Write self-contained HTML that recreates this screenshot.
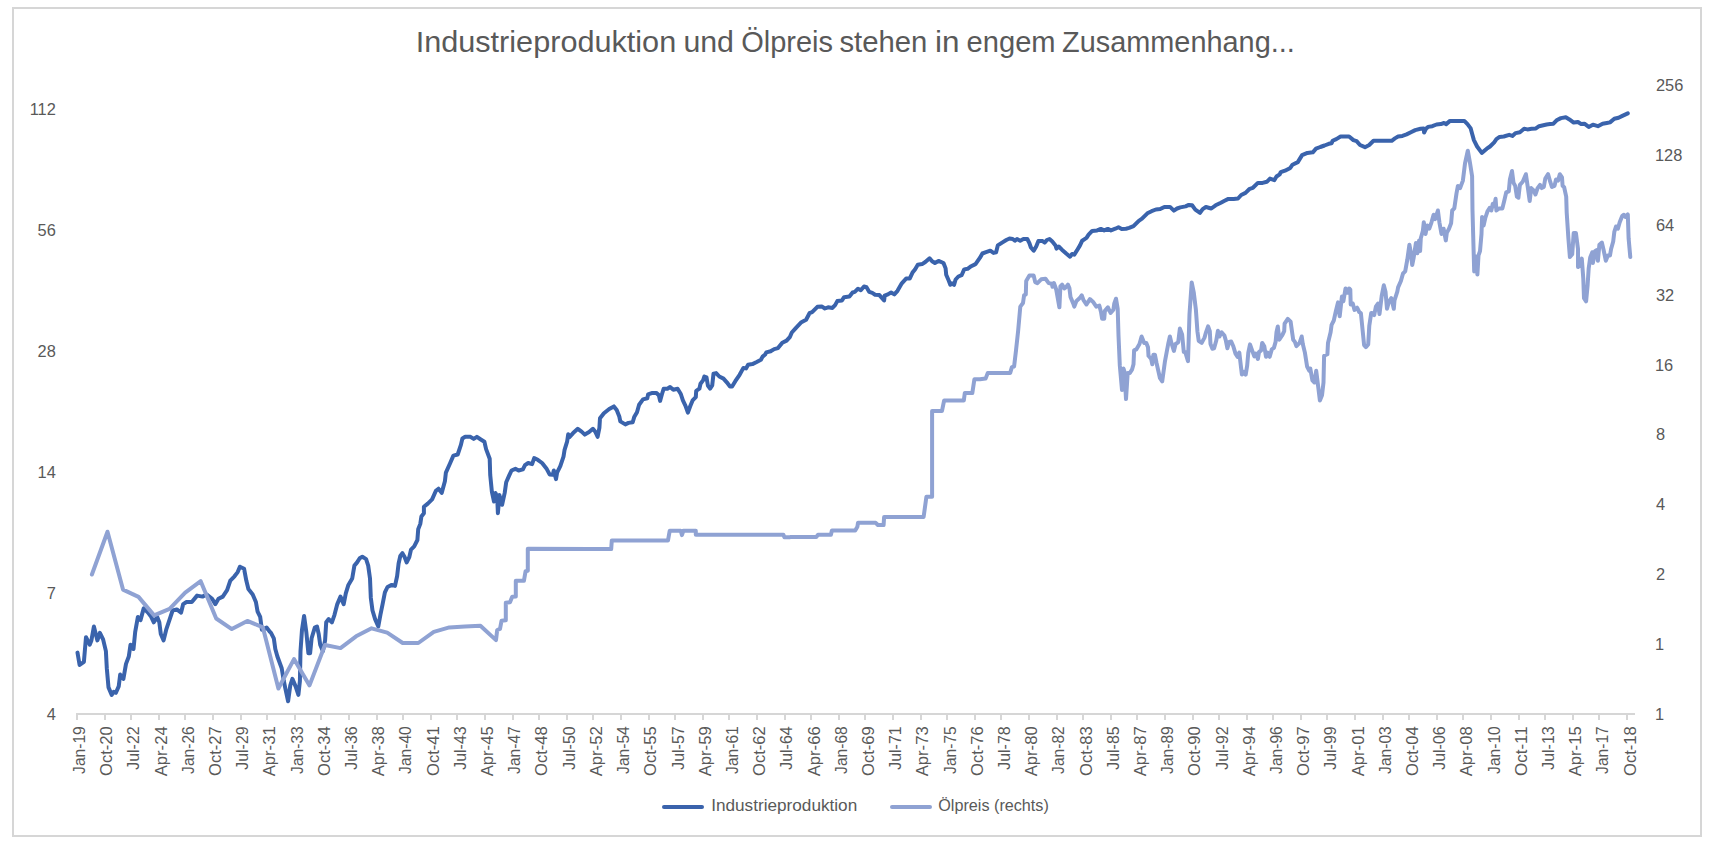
<!DOCTYPE html>
<html lang="de"><head><meta charset="utf-8"><title>Industrieproduktion und Ölpreis</title>
<style>
html,body{margin:0;padding:0;background:#fff;}
body{width:1711px;height:842px;overflow:hidden;font-family:"Liberation Sans",sans-serif;}
svg{display:block;}
text{font-family:"Liberation Sans",sans-serif;fill:#595959;}
.ax{font-size:16.4px;}
.xl{font-size:16.6px;}
.lg{font-size:16.6px;}
.ti{font-size:29.6px;}
</style></head><body>
<svg width="1711" height="842" viewBox="0 0 1711 842">
<rect x="0" y="0" width="1711" height="842" fill="#ffffff"/>
<rect x="13" y="8" width="1688" height="828" fill="#ffffff" stroke="#d6d6d6" stroke-width="2"/>

<text class="ti" x="415.7" y="52.1" textLength="260.5" lengthAdjust="spacingAndGlyphs">Industrieproduktion</text>
<text class="ti" x="683.4" y="52.1" textLength="50.6" lengthAdjust="spacingAndGlyphs">und</text>
<text class="ti" x="741.2" y="52.1" textLength="91.8" lengthAdjust="spacingAndGlyphs">Ölpreis</text>
<text class="ti" x="839.4" y="52.1" textLength="88.0" lengthAdjust="spacingAndGlyphs">stehen</text>
<text class="ti" x="935.1" y="52.1" textLength="24.5" lengthAdjust="spacingAndGlyphs">in</text>
<text class="ti" x="966.6" y="52.1" textLength="89.0" lengthAdjust="spacingAndGlyphs">engem</text>
<text class="ti" x="1062.0" y="52.1" textLength="232.8" lengthAdjust="spacingAndGlyphs">Zusammenhang...</text>
<text class="ax" x="55.8" y="114.9" text-anchor="end">112</text>
<text class="ax" x="55.8" y="235.9" text-anchor="end">56</text>
<text class="ax" x="55.8" y="356.9" text-anchor="end">28</text>
<text class="ax" x="55.8" y="478.0" text-anchor="end">14</text>
<text class="ax" x="55.8" y="599.0" text-anchor="end">7</text>
<text class="ax" x="55.8" y="720.0" text-anchor="end">4</text>
<text class="ax" x="1656.0" y="91.0">256</text>
<text class="ax" x="1655.0" y="160.9">128</text>
<text class="ax" x="1656.0" y="230.7">64</text>
<text class="ax" x="1656.0" y="300.6">32</text>
<text class="ax" x="1655.0" y="370.5">16</text>
<text class="ax" x="1656.0" y="440.4">8</text>
<text class="ax" x="1656.0" y="510.2">4</text>
<text class="ax" x="1656.0" y="580.1">2</text>
<text class="ax" x="1655.0" y="650.0">1</text>
<text class="ax" x="1655.0" y="719.8">1</text>
<g stroke="#d6d6d6" stroke-width="2" fill="none">
<line x1="77" y1="714" x2="1635" y2="714"/>
<line x1="77.0" y1="713" x2="77.0" y2="720"/>
<line x1="105.0" y1="713" x2="105.0" y2="720"/>
<line x1="131.0" y1="713" x2="131.0" y2="720"/>
<line x1="159.0" y1="713" x2="159.0" y2="720"/>
<line x1="185.0" y1="713" x2="185.0" y2="720"/>
<line x1="213.0" y1="713" x2="213.0" y2="720"/>
<line x1="241.0" y1="713" x2="241.0" y2="720"/>
<line x1="267.0" y1="713" x2="267.0" y2="720"/>
<line x1="295.0" y1="713" x2="295.0" y2="720"/>
<line x1="321.0" y1="713" x2="321.0" y2="720"/>
<line x1="349.0" y1="713" x2="349.0" y2="720"/>
<line x1="377.0" y1="713" x2="377.0" y2="720"/>
<line x1="403.0" y1="713" x2="403.0" y2="720"/>
<line x1="431.0" y1="713" x2="431.0" y2="720"/>
<line x1="457.0" y1="713" x2="457.0" y2="720"/>
<line x1="485.0" y1="713" x2="485.0" y2="720"/>
<line x1="513.0" y1="713" x2="513.0" y2="720"/>
<line x1="539.0" y1="713" x2="539.0" y2="720"/>
<line x1="567.0" y1="713" x2="567.0" y2="720"/>
<line x1="593.0" y1="713" x2="593.0" y2="720"/>
<line x1="621.0" y1="713" x2="621.0" y2="720"/>
<line x1="649.0" y1="713" x2="649.0" y2="720"/>
<line x1="675.0" y1="713" x2="675.0" y2="720"/>
<line x1="703.0" y1="713" x2="703.0" y2="720"/>
<line x1="729.0" y1="713" x2="729.0" y2="720"/>
<line x1="757.0" y1="713" x2="757.0" y2="720"/>
<line x1="785.0" y1="713" x2="785.0" y2="720"/>
<line x1="811.0" y1="713" x2="811.0" y2="720"/>
<line x1="839.0" y1="713" x2="839.0" y2="720"/>
<line x1="865.0" y1="713" x2="865.0" y2="720"/>
<line x1="893.0" y1="713" x2="893.0" y2="720"/>
<line x1="921.0" y1="713" x2="921.0" y2="720"/>
<line x1="947.0" y1="713" x2="947.0" y2="720"/>
<line x1="975.0" y1="713" x2="975.0" y2="720"/>
<line x1="1001.0" y1="713" x2="1001.0" y2="720"/>
<line x1="1029.0" y1="713" x2="1029.0" y2="720"/>
<line x1="1057.0" y1="713" x2="1057.0" y2="720"/>
<line x1="1083.0" y1="713" x2="1083.0" y2="720"/>
<line x1="1111.0" y1="713" x2="1111.0" y2="720"/>
<line x1="1137.0" y1="713" x2="1137.0" y2="720"/>
<line x1="1165.0" y1="713" x2="1165.0" y2="720"/>
<line x1="1193.0" y1="713" x2="1193.0" y2="720"/>
<line x1="1219.0" y1="713" x2="1219.0" y2="720"/>
<line x1="1247.0" y1="713" x2="1247.0" y2="720"/>
<line x1="1273.0" y1="713" x2="1273.0" y2="720"/>
<line x1="1301.0" y1="713" x2="1301.0" y2="720"/>
<line x1="1327.0" y1="713" x2="1327.0" y2="720"/>
<line x1="1355.0" y1="713" x2="1355.0" y2="720"/>
<line x1="1383.0" y1="713" x2="1383.0" y2="720"/>
<line x1="1409.0" y1="713" x2="1409.0" y2="720"/>
<line x1="1437.0" y1="713" x2="1437.0" y2="720"/>
<line x1="1463.0" y1="713" x2="1463.0" y2="720"/>
<line x1="1491.0" y1="713" x2="1491.0" y2="720"/>
<line x1="1519.0" y1="713" x2="1519.0" y2="720"/>
<line x1="1545.0" y1="713" x2="1545.0" y2="720"/>
<line x1="1573.0" y1="713" x2="1573.0" y2="720"/>
<line x1="1599.0" y1="713" x2="1599.0" y2="720"/>
<line x1="1627.0" y1="713" x2="1627.0" y2="720"/>
</g>
<text class="xl" transform="translate(85.0,726.3) rotate(-90)" text-anchor="end" textLength="47.6" lengthAdjust="spacingAndGlyphs">Jan-19</text>
<text class="xl" transform="translate(112.2,726.3) rotate(-90)" text-anchor="end" textLength="49.7" lengthAdjust="spacingAndGlyphs">Oct-20</text>
<text class="xl" transform="translate(139.4,726.3) rotate(-90)" text-anchor="end" textLength="43.5" lengthAdjust="spacingAndGlyphs">Jul-22</text>
<text class="xl" transform="translate(166.6,726.3) rotate(-90)" text-anchor="end" textLength="50.0" lengthAdjust="spacingAndGlyphs">Apr-24</text>
<text class="xl" transform="translate(193.8,726.3) rotate(-90)" text-anchor="end" textLength="47.6" lengthAdjust="spacingAndGlyphs">Jan-26</text>
<text class="xl" transform="translate(221.0,726.3) rotate(-90)" text-anchor="end" textLength="49.7" lengthAdjust="spacingAndGlyphs">Oct-27</text>
<text class="xl" transform="translate(248.2,726.3) rotate(-90)" text-anchor="end" textLength="43.5" lengthAdjust="spacingAndGlyphs">Jul-29</text>
<text class="xl" transform="translate(275.4,726.3) rotate(-90)" text-anchor="end" textLength="50.0" lengthAdjust="spacingAndGlyphs">Apr-31</text>
<text class="xl" transform="translate(302.6,726.3) rotate(-90)" text-anchor="end" textLength="47.6" lengthAdjust="spacingAndGlyphs">Jan-33</text>
<text class="xl" transform="translate(329.8,726.3) rotate(-90)" text-anchor="end" textLength="49.7" lengthAdjust="spacingAndGlyphs">Oct-34</text>
<text class="xl" transform="translate(357.0,726.3) rotate(-90)" text-anchor="end" textLength="43.5" lengthAdjust="spacingAndGlyphs">Jul-36</text>
<text class="xl" transform="translate(384.2,726.3) rotate(-90)" text-anchor="end" textLength="50.0" lengthAdjust="spacingAndGlyphs">Apr-38</text>
<text class="xl" transform="translate(411.4,726.3) rotate(-90)" text-anchor="end" textLength="47.6" lengthAdjust="spacingAndGlyphs">Jan-40</text>
<text class="xl" transform="translate(438.6,726.3) rotate(-90)" text-anchor="end" textLength="49.7" lengthAdjust="spacingAndGlyphs">Oct-41</text>
<text class="xl" transform="translate(465.8,726.3) rotate(-90)" text-anchor="end" textLength="43.5" lengthAdjust="spacingAndGlyphs">Jul-43</text>
<text class="xl" transform="translate(493.0,726.3) rotate(-90)" text-anchor="end" textLength="50.0" lengthAdjust="spacingAndGlyphs">Apr-45</text>
<text class="xl" transform="translate(520.2,726.3) rotate(-90)" text-anchor="end" textLength="47.6" lengthAdjust="spacingAndGlyphs">Jan-47</text>
<text class="xl" transform="translate(547.4,726.3) rotate(-90)" text-anchor="end" textLength="49.7" lengthAdjust="spacingAndGlyphs">Oct-48</text>
<text class="xl" transform="translate(574.6,726.3) rotate(-90)" text-anchor="end" textLength="43.5" lengthAdjust="spacingAndGlyphs">Jul-50</text>
<text class="xl" transform="translate(601.8,726.3) rotate(-90)" text-anchor="end" textLength="50.0" lengthAdjust="spacingAndGlyphs">Apr-52</text>
<text class="xl" transform="translate(629.0,726.3) rotate(-90)" text-anchor="end" textLength="47.6" lengthAdjust="spacingAndGlyphs">Jan-54</text>
<text class="xl" transform="translate(656.3,726.3) rotate(-90)" text-anchor="end" textLength="49.7" lengthAdjust="spacingAndGlyphs">Oct-55</text>
<text class="xl" transform="translate(683.5,726.3) rotate(-90)" text-anchor="end" textLength="43.5" lengthAdjust="spacingAndGlyphs">Jul-57</text>
<text class="xl" transform="translate(710.7,726.3) rotate(-90)" text-anchor="end" textLength="50.0" lengthAdjust="spacingAndGlyphs">Apr-59</text>
<text class="xl" transform="translate(737.9,726.3) rotate(-90)" text-anchor="end" textLength="47.6" lengthAdjust="spacingAndGlyphs">Jan-61</text>
<text class="xl" transform="translate(765.1,726.3) rotate(-90)" text-anchor="end" textLength="49.7" lengthAdjust="spacingAndGlyphs">Oct-62</text>
<text class="xl" transform="translate(792.3,726.3) rotate(-90)" text-anchor="end" textLength="43.5" lengthAdjust="spacingAndGlyphs">Jul-64</text>
<text class="xl" transform="translate(819.5,726.3) rotate(-90)" text-anchor="end" textLength="50.0" lengthAdjust="spacingAndGlyphs">Apr-66</text>
<text class="xl" transform="translate(846.7,726.3) rotate(-90)" text-anchor="end" textLength="47.6" lengthAdjust="spacingAndGlyphs">Jan-68</text>
<text class="xl" transform="translate(873.9,726.3) rotate(-90)" text-anchor="end" textLength="49.7" lengthAdjust="spacingAndGlyphs">Oct-69</text>
<text class="xl" transform="translate(901.1,726.3) rotate(-90)" text-anchor="end" textLength="43.5" lengthAdjust="spacingAndGlyphs">Jul-71</text>
<text class="xl" transform="translate(928.3,726.3) rotate(-90)" text-anchor="end" textLength="50.0" lengthAdjust="spacingAndGlyphs">Apr-73</text>
<text class="xl" transform="translate(955.5,726.3) rotate(-90)" text-anchor="end" textLength="47.6" lengthAdjust="spacingAndGlyphs">Jan-75</text>
<text class="xl" transform="translate(982.7,726.3) rotate(-90)" text-anchor="end" textLength="49.7" lengthAdjust="spacingAndGlyphs">Oct-76</text>
<text class="xl" transform="translate(1009.9,726.3) rotate(-90)" text-anchor="end" textLength="43.5" lengthAdjust="spacingAndGlyphs">Jul-78</text>
<text class="xl" transform="translate(1037.1,726.3) rotate(-90)" text-anchor="end" textLength="50.0" lengthAdjust="spacingAndGlyphs">Apr-80</text>
<text class="xl" transform="translate(1064.3,726.3) rotate(-90)" text-anchor="end" textLength="47.6" lengthAdjust="spacingAndGlyphs">Jan-82</text>
<text class="xl" transform="translate(1091.5,726.3) rotate(-90)" text-anchor="end" textLength="49.7" lengthAdjust="spacingAndGlyphs">Oct-83</text>
<text class="xl" transform="translate(1118.7,726.3) rotate(-90)" text-anchor="end" textLength="43.5" lengthAdjust="spacingAndGlyphs">Jul-85</text>
<text class="xl" transform="translate(1145.9,726.3) rotate(-90)" text-anchor="end" textLength="50.0" lengthAdjust="spacingAndGlyphs">Apr-87</text>
<text class="xl" transform="translate(1173.1,726.3) rotate(-90)" text-anchor="end" textLength="47.6" lengthAdjust="spacingAndGlyphs">Jan-89</text>
<text class="xl" transform="translate(1200.4,726.3) rotate(-90)" text-anchor="end" textLength="49.7" lengthAdjust="spacingAndGlyphs">Oct-90</text>
<text class="xl" transform="translate(1227.6,726.3) rotate(-90)" text-anchor="end" textLength="43.5" lengthAdjust="spacingAndGlyphs">Jul-92</text>
<text class="xl" transform="translate(1254.8,726.3) rotate(-90)" text-anchor="end" textLength="50.0" lengthAdjust="spacingAndGlyphs">Apr-94</text>
<text class="xl" transform="translate(1282.0,726.3) rotate(-90)" text-anchor="end" textLength="47.6" lengthAdjust="spacingAndGlyphs">Jan-96</text>
<text class="xl" transform="translate(1309.2,726.3) rotate(-90)" text-anchor="end" textLength="49.7" lengthAdjust="spacingAndGlyphs">Oct-97</text>
<text class="xl" transform="translate(1336.4,726.3) rotate(-90)" text-anchor="end" textLength="43.5" lengthAdjust="spacingAndGlyphs">Jul-99</text>
<text class="xl" transform="translate(1363.6,726.3) rotate(-90)" text-anchor="end" textLength="50.0" lengthAdjust="spacingAndGlyphs">Apr-01</text>
<text class="xl" transform="translate(1390.8,726.3) rotate(-90)" text-anchor="end" textLength="47.6" lengthAdjust="spacingAndGlyphs">Jan-03</text>
<text class="xl" transform="translate(1418.0,726.3) rotate(-90)" text-anchor="end" textLength="49.7" lengthAdjust="spacingAndGlyphs">Oct-04</text>
<text class="xl" transform="translate(1445.2,726.3) rotate(-90)" text-anchor="end" textLength="43.5" lengthAdjust="spacingAndGlyphs">Jul-06</text>
<text class="xl" transform="translate(1472.4,726.3) rotate(-90)" text-anchor="end" textLength="50.0" lengthAdjust="spacingAndGlyphs">Apr-08</text>
<text class="xl" transform="translate(1499.6,726.3) rotate(-90)" text-anchor="end" textLength="47.6" lengthAdjust="spacingAndGlyphs">Jan-10</text>
<text class="xl" transform="translate(1526.8,726.3) rotate(-90)" text-anchor="end" textLength="49.7" lengthAdjust="spacingAndGlyphs">Oct-11</text>
<text class="xl" transform="translate(1554.0,726.3) rotate(-90)" text-anchor="end" textLength="43.5" lengthAdjust="spacingAndGlyphs">Jul-13</text>
<text class="xl" transform="translate(1581.2,726.3) rotate(-90)" text-anchor="end" textLength="50.0" lengthAdjust="spacingAndGlyphs">Apr-15</text>
<text class="xl" transform="translate(1608.4,726.3) rotate(-90)" text-anchor="end" textLength="47.6" lengthAdjust="spacingAndGlyphs">Jan-17</text>
<text class="xl" transform="translate(1635.6,726.3) rotate(-90)" text-anchor="end" textLength="49.7" lengthAdjust="spacingAndGlyphs">Oct-18</text>
<polyline fill="none" stroke="#3a63ac" stroke-width="4" stroke-linejoin="round" stroke-linecap="round" points="77.5,652.6 79.6,665.0 83.9,661.8 86.0,637.2 89.7,644.7 91.4,640.4 93.9,626.5 97.4,640.4 99.9,632.9 103.1,639.4 105.9,651.1 106.8,668.2 108.5,687.4 111.7,694.9 113.8,691.7 115.9,692.8 118.7,686.4 120.2,674.6 123.4,678.9 126.0,663.9 128.8,656.5 130.5,644.7 133.5,649.0 135.2,631.9 137.9,616.9 140.5,620.1 143.7,608.4 148.0,612.6 151.2,616.9 153.8,622.3 157.2,616.9 159.3,622.3 160.8,634.0 163.6,640.4 166.2,629.7 169.4,620.1 172.6,610.5 176.8,609.4 181.1,612.6 183.2,604.1 186.5,602.0 191.8,602.0 197.1,595.6 202.5,596.6 206.8,594.5 212.1,598.8 215.3,604.1 218.5,598.8 222.8,596.6 227.1,590.2 230.3,580.6 234.5,576.3 237.7,572.1 239.9,566.7 244.1,568.8 246.3,580.6 248.4,589.1 252.7,594.5 255.9,602.0 257.6,611.6 260.2,616.9 261.9,629.7 266.6,627.6 270.0,631.9 271.0,632.9 273.8,638.3 275.3,649.0 277.4,656.5 281.7,668.2 283.8,681.0 285.6,689.6 288.1,701.3 290.3,685.3 292.4,678.9 295.6,686.4 298.4,694.9 299.9,681.0 300.5,651.1 302.0,629.7 304.1,615.9 306.3,631.9 308.4,653.2 310.1,653.2 311.6,638.3 314.8,627.6 317.0,626.5 318.7,634.0 320.2,644.7 322.9,651.1 325.1,640.4 326.2,622.3 328.7,619.1 331.9,622.3 334.5,614.8 337.3,604.1 340.5,596.6 343.7,604.1 345.8,593.4 348.4,584.9 352.2,578.5 354.4,565.6 357.1,562.4 359.7,558.2 362.3,556.7 366.1,559.2 368.2,565.6 370.0,578.5 370.8,597.7 372.5,610.5 375.1,619.1 378.3,626.5 380.4,614.8 382.6,604.1 384.9,592.4 387.5,587.0 391.8,584.9 395.0,585.9 397.1,576.3 398.6,563.5 400.3,556.0 402.4,553.2 404.6,557.1 406.7,562.4 409.3,557.1 411.0,549.6 414.2,546.4 417.4,540.0 418.2,529.3 420.3,523.9 421.4,516.5 423.9,513.2 423.9,506.8 427.8,503.6 432.1,499.4 435.9,490.8 438.5,488.7 441.7,492.9 444.9,481.2 445.9,472.6 450.2,463.0 453.4,455.6 457.7,454.5 460.9,444.9 462.4,438.5 465.2,436.8 470.5,436.8 473.7,438.9 476.9,436.8 480.8,439.5 484.4,441.7 486.1,449.1 489.7,458.8 490.2,474.8 491.9,491.9 494.0,501.5 495.5,492.9 497.2,497.2 497.9,513.2 499.4,495.1 502.1,504.7 504.7,492.9 506.2,482.3 509.0,475.9 511.5,470.5 515.4,468.8 518.6,470.5 522.9,469.4 525.0,465.2 528.2,463.0 532.1,464.1 534.2,458.1 537.8,459.8 542.1,463.0 546.4,468.4 549.6,474.4 552.8,474.8 553.8,470.5 556.0,479.1 557.1,472.6 560.3,466.2 563.5,456.6 564.5,450.2 567.1,441.7 568.2,434.2 569.2,437.4 573.1,433.1 577.8,428.8 581.6,431.6 584.8,434.6 589.1,432.1 592.9,428.8 595.5,432.1 597.6,436.8 599.4,427.8 599.4,427.8 600.0,418.2 603.9,413.2 609.2,409.0 613.9,406.4 616.7,410.0 619.3,416.5 620.3,421.4 625.3,424.4 628.5,422.9 632.7,422.2 634.2,417.1 637.0,412.2 639.1,404.7 643.0,399.4 647.3,398.3 648.1,394.4 652.4,392.9 656.2,392.9 658.8,395.1 660.1,400.9 662.0,394.0 663.7,388.7 667.4,388.7 670.1,387.0 673.3,389.7 677.6,388.7 680.8,394.0 682.9,400.4 685.5,405.8 687.9,412.6 690.4,405.8 692.6,400.4 695.8,397.2 696.2,390.8 699.4,388.7 700.5,383.8 703.2,380.1 704.3,376.5 706.5,377.4 707.9,385.5 710.1,388.7 712.2,385.5 713.5,373.7 716.1,373.1 719.3,376.5 723.5,378.6 726.8,382.3 730.0,386.5 732.1,386.5 735.3,381.2 739.6,374.8 743.4,367.9 746.0,368.4 748.1,364.7 752.4,364.1 756.7,362.0 760.9,359.8 762.6,356.6 765.2,354.5 766.3,352.4 770.6,351.3 774.2,349.1 778.0,348.1 782.3,342.7 786.6,340.6 790.0,336.8 791.8,332.5 796.0,327.8 801.4,322.2 806.1,319.7 809.5,313.2 812.1,312.2 817.4,306.8 821.7,306.4 824.9,308.5 828.1,307.3 832.4,307.9 835.1,305.1 837.3,301.1 842.0,300.4 844.1,297.2 849.4,296.6 852.6,292.5 854.8,291.9 858.0,288.7 860.8,290.2 864.0,286.5 866.5,287.2 869.3,291.9 872.3,292.9 875.1,294.7 879.4,295.1 884.1,300.4 884.7,295.7 887.9,294.4 891.1,292.5 894.3,294.4 897.5,290.8 901.8,283.3 906.1,278.6 909.7,278.6 912.5,272.6 915.0,269.4 917.8,264.7 922.1,264.1 925.3,262.0 929.6,258.3 932.1,261.3 934.9,263.0 938.5,260.9 943.5,263.0 945.6,268.4 946.2,274.8 948.8,280.8 950.3,284.8 952.0,283.3 954.1,284.8 955.6,279.5 958.4,276.5 961.6,275.2 964.2,269.4 967.6,268.8 971.2,266.2 975.5,264.1 980.0,257.7 982.4,253.5 986.0,252.2 990.3,250.7 993.5,252.9 996.1,252.2 997.8,245.4 1002.1,242.6 1006.3,240.0 1009.5,238.5 1012.7,239.0 1014.9,240.7 1017.0,239.0 1020.2,240.7 1023.4,239.0 1027.3,239.0 1029.4,243.2 1030.9,247.5 1033.7,250.7 1036.2,246.5 1038.4,241.1 1042.6,241.1 1044.8,242.6 1046.9,240.0 1049.5,239.0 1052.3,241.5 1055.5,245.4 1056.5,248.6 1058.7,246.5 1061.9,249.7 1066.2,253.5 1070.0,256.7 1072.1,253.9 1074.3,254.6 1076.8,250.7 1080.0,245.4 1082.2,240.7 1086.5,237.9 1088.6,234.7 1092.2,230.9 1097.1,230.4 1100.8,228.9 1104.2,230.4 1107.8,228.9 1111.0,230.4 1115.3,228.7 1118.5,227.2 1121.7,228.9 1126.0,228.7 1129.2,227.9 1133.5,226.2 1138.8,220.8 1142.0,218.7 1147.4,213.3 1151.6,211.2 1155.9,209.5 1160.2,209.1 1164.4,206.9 1170.0,206.9 1173.9,210.6 1177.1,208.5 1180.3,207.4 1185.6,206.4 1188.8,204.9 1192.1,205.3 1195.3,209.6 1200.0,212.8 1202.7,209.1 1205.9,207.0 1211.3,208.5 1215.6,205.3 1220.9,202.7 1224.1,201.0 1228.4,198.9 1233.7,198.9 1238.0,198.5 1241.2,195.0 1245.5,192.9 1249.7,188.8 1252.9,187.8 1257.9,182.9 1262.6,182.9 1266.8,181.8 1270.0,178.6 1274.3,180.1 1276.5,176.5 1279.7,174.3 1280.7,172.2 1285.0,170.7 1290.3,167.9 1292.5,164.7 1297.8,162.1 1302.1,155.1 1307.4,152.9 1312.8,152.3 1316.0,148.7 1320.3,147.0 1324.5,145.5 1328.8,143.8 1331.6,143.3 1332.6,140.8 1336.3,139.1 1340.6,136.5 1349.1,136.5 1353.4,140.1 1356.6,141.2 1360.0,145.0 1365.0,147.2 1369.2,145.0 1373.5,140.8 1382.1,140.8 1391.7,140.8 1394.9,138.4 1398.1,136.5 1402.4,135.9 1406.6,134.4 1410.9,132.2 1415.2,130.1 1420.5,128.8 1423.7,128.4 1424.1,132.6 1425.9,128.8 1428.0,126.9 1432.3,126.2 1436.5,124.5 1440.8,124.1 1444.0,123.0 1446.2,124.1 1450.0,120.9 1456.8,120.9 1464.3,120.9 1467.5,124.1 1470.7,128.4 1472.4,134.8 1473.9,140.1 1477.1,146.5 1481.8,152.9 1486.8,148.7 1490.0,146.5 1494.2,142.3 1496.4,139.1 1499.6,136.9 1503.8,136.5 1509.2,134.8 1512.4,135.9 1515.6,133.1 1519.9,132.2 1524.1,128.8 1527.4,129.4 1531.6,128.8 1535.9,128.4 1539.1,126.2 1543.4,125.2 1546.6,124.5 1550.0,124.1 1553.4,123.7 1556.6,120.3 1560.9,118.1 1565.8,117.3 1569.4,119.4 1573.7,122.6 1578.0,122.0 1581.2,124.1 1584.4,123.7 1588.7,126.9 1592.9,124.7 1597.9,126.2 1602.6,123.7 1606.8,123.0 1610.0,122.4 1614.3,118.8 1618.6,117.7 1622.9,115.6 1627.8,113.4"/>
<polyline fill="none" stroke="#8fa2d3" stroke-width="4" stroke-linejoin="round" stroke-linecap="round" points="91.9,574.5 107.5,531.7 123.0,589.6 138.5,596.9 154.1,615.4 169.6,608.9 185.2,592.6 200.7,581.2 216.2,618.5 231.8,629.1 247.3,620.9 262.9,627.4 278.4,688.5 294.0,659.1 309.5,685.4 325.0,645.0 340.5,648.1 356.1,636.3 371.6,628.3 387.2,632.7 402.7,643.0 418.3,643.0 433.8,631.8 449.3,627.4 464.9,626.6 480.4,625.7 496.0,640.1 497.2,630.0 500.0,628.9 501.5,620.8 505.8,620.3 505.8,602.8 510.0,602.2 512.2,596.8 515.8,596.4 515.8,580.8 523.9,580.8 525.6,571.2 527.8,570.8 527.8,548.8 590.0,549.0 611.2,549.0 611.8,540.4 668.0,540.4 669.7,530.8 680.8,530.8 681.9,535.1 683.4,530.8 695.8,530.8 695.8,534.7 783.4,534.7 784.4,537.2 790.0,537.2 790.3,536.9 816.3,536.9 818.0,534.8 830.9,534.8 831.9,530.5 855.2,530.5 857.4,526.7 858.0,522.8 875.7,522.8 877.9,525.0 883.6,525.0 884.1,517.1 923.6,517.1 926.4,496.8 932.1,496.8 932.1,410.9 942.0,410.9 944.1,400.6 963.8,400.6 964.8,393.1 972.3,393.1 974.4,379.2 980.0,379.2 985.6,378.6 987.8,372.9 1010.2,372.9 1011.9,367.1 1014.1,366.5 1016.0,350.4 1018.1,331.2 1020.3,306.6 1023.0,303.0 1024.1,295.3 1025.8,294.4 1026.2,281.0 1029.4,275.6 1033.7,275.6 1035.2,282.1 1037.4,283.1 1041.2,279.3 1045.5,278.8 1048.7,283.1 1051.9,283.8 1052.5,286.8 1054.0,283.1 1056.2,289.5 1059.4,307.3 1060.4,286.3 1062.1,284.6 1064.3,288.5 1065.8,287.4 1067.9,284.6 1069.4,288.0 1070.5,297.0 1073.2,303.4 1074.3,306.6 1076.5,300.9 1079.7,298.1 1081.8,295.3 1083.5,300.2 1086.5,304.5 1089.9,299.1 1092.9,301.7 1096.3,306.6 1099.3,305.6 1101.0,312.0 1102.1,318.8 1104.2,318.8 1104.9,310.9 1107.9,307.3 1110.6,313.0 1113.4,309.8 1114.3,303.4 1116.0,298.7 1117.7,308.8 1118.5,335.5 1119.8,365.4 1122.0,390.0 1123.5,368.6 1124.5,371.8 1126.0,399.1 1127.7,372.9 1129.9,372.9 1132.0,369.7 1133.5,364.3 1134.1,350.4 1136.3,349.4 1139.5,344.0 1141.6,336.5 1144.2,342.9 1146.3,342.9 1148.0,347.2 1148.5,355.8 1151.2,359.0 1152.3,364.3 1153.4,354.7 1154.9,354.7 1156.6,363.2 1160.0,378.2 1162.2,381.4 1165.0,361.1 1168.2,344.0 1169.9,336.5 1171.4,342.9 1173.9,350.9 1175.6,344.0 1178.2,342.3 1179.9,328.6 1182.1,334.4 1183.8,352.1 1185.3,352.1 1188.0,361.1 1189.5,314.1 1191.7,282.5 1193.8,292.7 1195.9,309.8 1197.4,331.2 1198.7,340.8 1201.7,342.9 1204.5,337.6 1206.0,332.3 1208.1,326.3 1209.8,331.2 1210.5,344.0 1212.4,348.7 1214.1,348.3 1216.2,340.8 1217.9,330.8 1219.4,336.5 1221.6,332.3 1224.4,335.5 1225.9,340.8 1227.4,348.3 1229.1,341.9 1231.2,341.5 1233.3,346.2 1235.5,353.6 1237.6,356.8 1239.3,352.6 1240.8,365.4 1241.9,374.6 1244.0,371.8 1245.7,374.6 1247.2,365.4 1248.3,352.6 1250.0,344.4 1252.1,350.4 1254.3,356.4 1255.8,353.6 1257.9,359.0 1259.0,352.1 1261.1,350.4 1262.2,342.9 1264.3,346.2 1266.0,356.8 1267.5,352.6 1269.7,356.8 1271.8,349.4 1273.9,347.9 1275.6,341.9 1276.5,332.3 1277.8,326.5 1279.3,339.7 1282.1,335.5 1284.2,331.2 1284.6,323.7 1287.8,318.8 1290.6,321.6 1292.1,332.3 1293.2,339.7 1294.9,341.9 1296.4,346.2 1299.6,342.9 1301.7,336.5 1302.8,344.0 1304.9,352.6 1307.1,366.5 1309.2,370.7 1310.3,368.6 1312.4,380.3 1314.5,382.5 1316.2,370.7 1318.2,386.8 1319.9,400.6 1322.0,395.3 1323.5,382.5 1324.1,355.8 1327.4,354.3 1328.0,342.9 1330.6,332.3 1331.6,324.8 1333.8,320.5 1335.9,310.9 1338.0,302.4 1339.7,316.2 1341.9,296.6 1343.4,301.3 1345.5,288.5 1347.6,292.7 1349.1,288.5 1349.2,288.5 1350.3,289.6 1350.7,304.5 1352.8,303.5 1354.5,309.9 1357.1,307.7 1359.2,312.0 1360.9,313.1 1364.1,345.1 1365.9,347.1 1368.2,344.5 1369.3,325.7 1371.2,313.1 1372.1,313.1 1374.2,315.2 1375.9,306.7 1378.0,303.5 1379.5,314.1 1381.7,296.0 1383.8,285.3 1385.5,291.7 1387.0,308.8 1388.7,302.4 1391.3,298.1 1393.8,308.8 1394.5,300.3 1397.3,291.7 1398.1,287.4 1400.9,281.0 1403.0,273.5 1405.2,271.4 1407.3,259.7 1409.4,244.7 1410.9,253.2 1412.2,265.0 1413.7,257.5 1415.9,243.0 1417.4,253.2 1419.1,240.4 1420.1,251.1 1420.8,238.3 1422.9,230.8 1423.8,222.3 1425.5,234.0 1427.2,225.5 1429.3,228.7 1431.5,222.3 1433.6,214.8 1435.1,219.1 1437.9,210.5 1439.4,222.3 1441.5,234.0 1443.6,228.7 1445.8,240.4 1446.8,232.9 1449.0,228.7 1451.1,223.3 1452.2,210.5 1454.3,208.4 1456.5,193.4 1457.9,185.9 1460.1,188.1 1462.9,180.6 1465.0,163.5 1467.8,150.7 1469.9,162.4 1472.1,176.3 1472.5,210.5 1473.5,246.8 1474.2,271.4 1475.7,256.5 1477.4,274.6 1478.5,255.4 1480.0,251.1 1481.5,234.0 1482.1,216.9 1483.6,225.5 1485.3,218.0 1487.4,211.6 1489.6,207.9 1491.3,210.5 1492.8,203.7 1494.3,206.2 1495.6,198.8 1496.4,210.5 1499.2,208.4 1502.4,208.4 1504.5,199.8 1506.2,192.4 1508.8,191.3 1509.9,179.5 1512.0,171.0 1513.5,182.7 1515.2,185.9 1516.9,196.6 1518.4,197.7 1519.9,184.9 1522.7,181.7 1525.9,174.2 1527.6,185.9 1529.7,200.9 1531.2,188.1 1533.4,190.2 1535.5,194.5 1537.6,188.1 1540.0,184.9 1541.7,188.1 1543.8,187.0 1545.3,178.5 1548.1,174.2 1550.2,181.7 1551.9,187.0 1554.5,185.9 1556.0,179.5 1558.1,180.6 1559.8,174.2 1562.0,177.4 1562.6,185.9 1564.1,187.0 1566.2,196.6 1566.7,212.6 1568.4,238.3 1569.9,257.1 1572.2,254.3 1573.7,232.9 1575.9,232.9 1578.0,249.0 1578.0,267.1 1580.1,263.9 1581.8,258.6 1583.3,278.9 1584.0,298.1 1586.1,301.3 1587.6,285.3 1588.7,268.2 1590.2,257.5 1592.3,252.2 1592.9,262.9 1595.1,251.1 1596.6,250.0 1597.9,260.7 1599.4,244.7 1601.9,242.6 1603.6,250.0 1605.8,260.7 1607.9,255.4 1610.0,255.4 1611.1,249.0 1613.2,241.5 1614.3,231.9 1616.0,226.5 1617.9,228.7 1619.7,222.3 1622.2,215.9 1623.9,214.8 1625.6,216.9 1627.8,214.4 1628.6,238.3 1630.3,257.1"/>
<line x1="664" y1="807" x2="702" y2="807" stroke="#3a63ac" stroke-width="4" stroke-linecap="round"/>
<text class="lg" x="711.2" y="811.2" textLength="146" lengthAdjust="spacingAndGlyphs">Industrieproduktion</text>
<line x1="892" y1="807" x2="930" y2="807" stroke="#8fa2d3" stroke-width="4" stroke-linecap="round"/>
<text class="lg" x="938.3" y="811.2" textLength="110.5" lengthAdjust="spacingAndGlyphs">Ölpreis (rechts)</text>
</svg></body></html>
